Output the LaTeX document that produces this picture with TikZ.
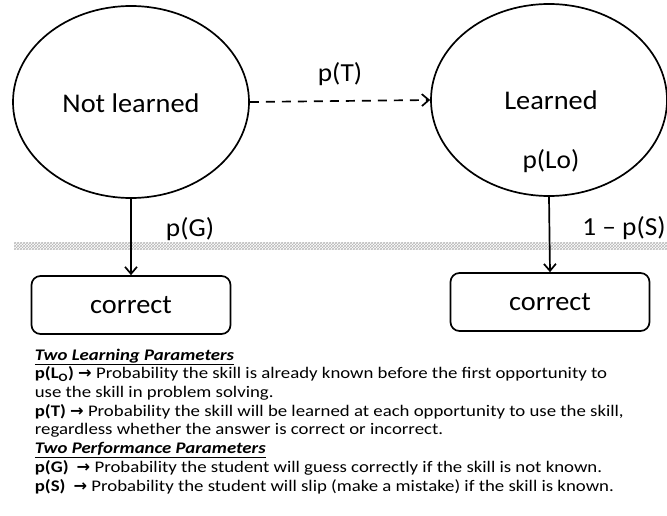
\documentclass[tikz,border=0pt]{standalone}
\usepackage{fontspec}
\setmainfont{Carlito}
\newfontfamily\arrowfont{DejaVu Sans}
\newfontfamily\bodyfont[FakeStretch=1.16]{Carlito}
\newfontfamily\diagfont[FakeStretch=1.05]{Carlito}
\usetikzlibrary{shapes.geometric,patterns,arrows.meta}
\newcommand{\givesarrow}{{\arrowfont\bfseries\char"2192}}
\begin{document}
\begin{tikzpicture}[x=1pt,y=-1pt,line width=1.7pt,
    state/.style={draw, shape=ellipse, minimum width=236pt, minimum height=192pt, inner sep=0pt},
    outcome/.style={draw, rounded corners=9pt, minimum width=199pt, minimum height=58pt, inner sep=0pt, font=\diagfont\fontsize{27}{30}\selectfont},
    prob/.style={font=\diagfont\fontsize{26}{30}\selectfont, inner sep=0pt},
    textline/.style={anchor=base west, inner sep=0pt, font=\bodyfont\fontsize{16.2}{18}\selectfont}
]
\useasboundingbox (0,0) rectangle (667,516);
% --- Zustaende ---
\node[state] (notlearned) at (131,102) {};
\node[state] (learned) at (549,100) {};
\node[font=\diagfont\fontsize{27}{30}\selectfont] (nltext) at (131,103) {Not learned};
\node[font=\diagfont\fontsize{27}{30}\selectfont] (ltext) at (551,100) {Learned};
\node[prob] (plo) at (551,161) {p(Lo)};
% --- Beobachtungen ---
\node[outcome] (corrleft) at (131,305) {correct};
\node[outcome] (corrright) at (550,302) {correct};
% --- Trennlinie ---
\fill[pattern=crosshatch, pattern color=gray!55] (14,242) rectangle (667,249);
% --- Uebergaenge ---
\draw[dashed, dash pattern=on 9pt off 7pt, -{Straight Barb[length=7pt,width=12pt]}] (notlearned.east) -- (learned.west)
    node[prob, midway, above=14pt] (pt) {p(T)};
\draw[-{Straight Barb[length=7pt,width=12pt]}] (notlearned.south) -- (corrleft.north);
\draw[-{Straight Barb[length=7pt,width=12pt]}] (learned.south) -- (corrright.north);
\node[prob] (pg) at (190,229) {p(G)};
\node[prob] (ps) at (624,228) {1 – p(S)};
% --- Parameter ---
\node[textline] (head1) at (34,360) {\underline{\textbf{\textit{Two Learning Parameters}}}};
\node[textline] (lo1) at (34,378.7) {\textbf{p(L\textsubscript{O})} \givesarrow{} Probability the skill is already known before the first opportunity to};
\node[textline] (lo2) at (34,397.4) {use the skill in problem solving.};
\node[textline] (t1) at (34,416) {\textbf{p(T)} \givesarrow{} Probability the skill will be learned at each opportunity to use the skill,};
\node[textline] (t2) at (34,434.8) {regardless whether the answer is correct or incorrect.};
\node[textline] (head2) at (34,453.5) {\underline{\textbf{\textit{Two Performance Parameters}}}};
\node[textline] (g1) at (34,472.2) {\textbf{p(G)}\enspace\givesarrow{} Probability the student will guess correctly if the skill is not known.};
\node[textline] (s1) at (34,491) {\textbf{p(S)}\enspace\givesarrow{} Probability the student will slip (make a mistake) if the skill is known.};
\end{tikzpicture}
\end{document}
